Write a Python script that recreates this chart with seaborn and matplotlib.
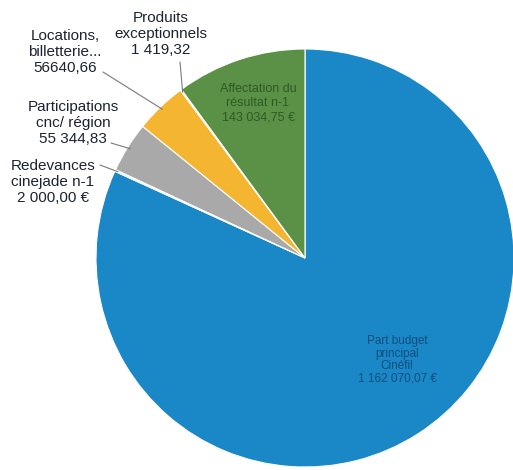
import numpy as np
import matplotlib
matplotlib.use("Agg")
import matplotlib.pyplot as plt
import seaborn as sns

# Données du budget (ordre horaire depuis midi)
categories = [
    "Part budget principal Cinéfil",
    "Redevances cinejade n-1",
    "Participations cnc/ région",
    "Locations, billetterie...",
    "Produits exceptionnels",
    "Affectation du résultat n-1",
]
valeurs = [1162070.07, 2000.00, 55344.83, 56640.66, 1419.32, 143034.75]
etiquettes = [
    "Part budget\nprincipal\nCinéfil\n1 162 070,07 €",
    "Redevances\ncinejade n-1\n2 000,00 €",
    "Participations\ncnc/ région\n55 344,83",
    "Locations,\nbilletterie...\n56640,66",
    "Produits\nexceptionnels\n1 419,32",
    "Affectation du\nrésultat n-1\n143 034,75 €",
]
couleurs = ["#1a87c6", "#d2eef8", "#a9a9a9", "#f4b531", "#f7df8c", "#5a9146"]

W, H = 513, 470


def px(x, y):
    # coordonnées pixel (origine en haut) -> coordonnées données
    return x, H - y


sns.set_theme(style="white")
plt.rcParams["font.family"] = ["Liberation Sans", "DejaVu Sans"]

fig = plt.figure(figsize=(W / 100, H / 100), dpi=100)
ax = fig.add_axes([0, 0, 1, 1])

centre = px(305, 258)
rayon = 209
wedges, _ = ax.pie(valeurs, colors=couleurs, startangle=90, counterclock=False,
                   center=centre, radius=rayon,
                   wedgeprops=dict(edgecolor="white", linewidth=0.8))
ax.set_xlim(0, W)
ax.set_ylim(0, H)
ax.set_aspect("equal")
ax.axis("off")


def bord(i, r=rayon):
    w = wedges[i]
    a = np.deg2rad((w.theta1 + w.theta2) / 2)
    return centre[0] + r * np.cos(a), centre[1] + r * np.sin(a)


# étiquettes extérieures : (index, position du texte, départ du trait)
exterieures = [
    (4, (161, 34), (180, 62)),
    (3, (65, 52), (103, 72)),
    (2, (73, 123), (111, 143)),
    (1, (53, 182), (100, 165)),
]
for i, pos, depart in exterieures:
    ax.text(*px(*pos), etiquettes[i], ha="center", va="center", fontsize=11,
            color="#1c2333", linespacing=1.15)
    ax.annotate("", xy=bord(i, rayon - 3), xytext=px(*depart),
                arrowprops=dict(arrowstyle="-", color="#7a7a7a", lw=0.8,
                                shrinkA=0, shrinkB=0))

# étiquettes intérieures
ax.text(*px(258, 103), etiquettes[5], ha="center", va="center", fontsize=9,
        color="#2f5a26", linespacing=1.25)
ax.text(*px(397, 360), etiquettes[0], ha="center", va="center", fontsize=8.5,
        color="#0f4f7d", linespacing=1.05)

fig.savefig("out.png", dpi=100, facecolor="white")
